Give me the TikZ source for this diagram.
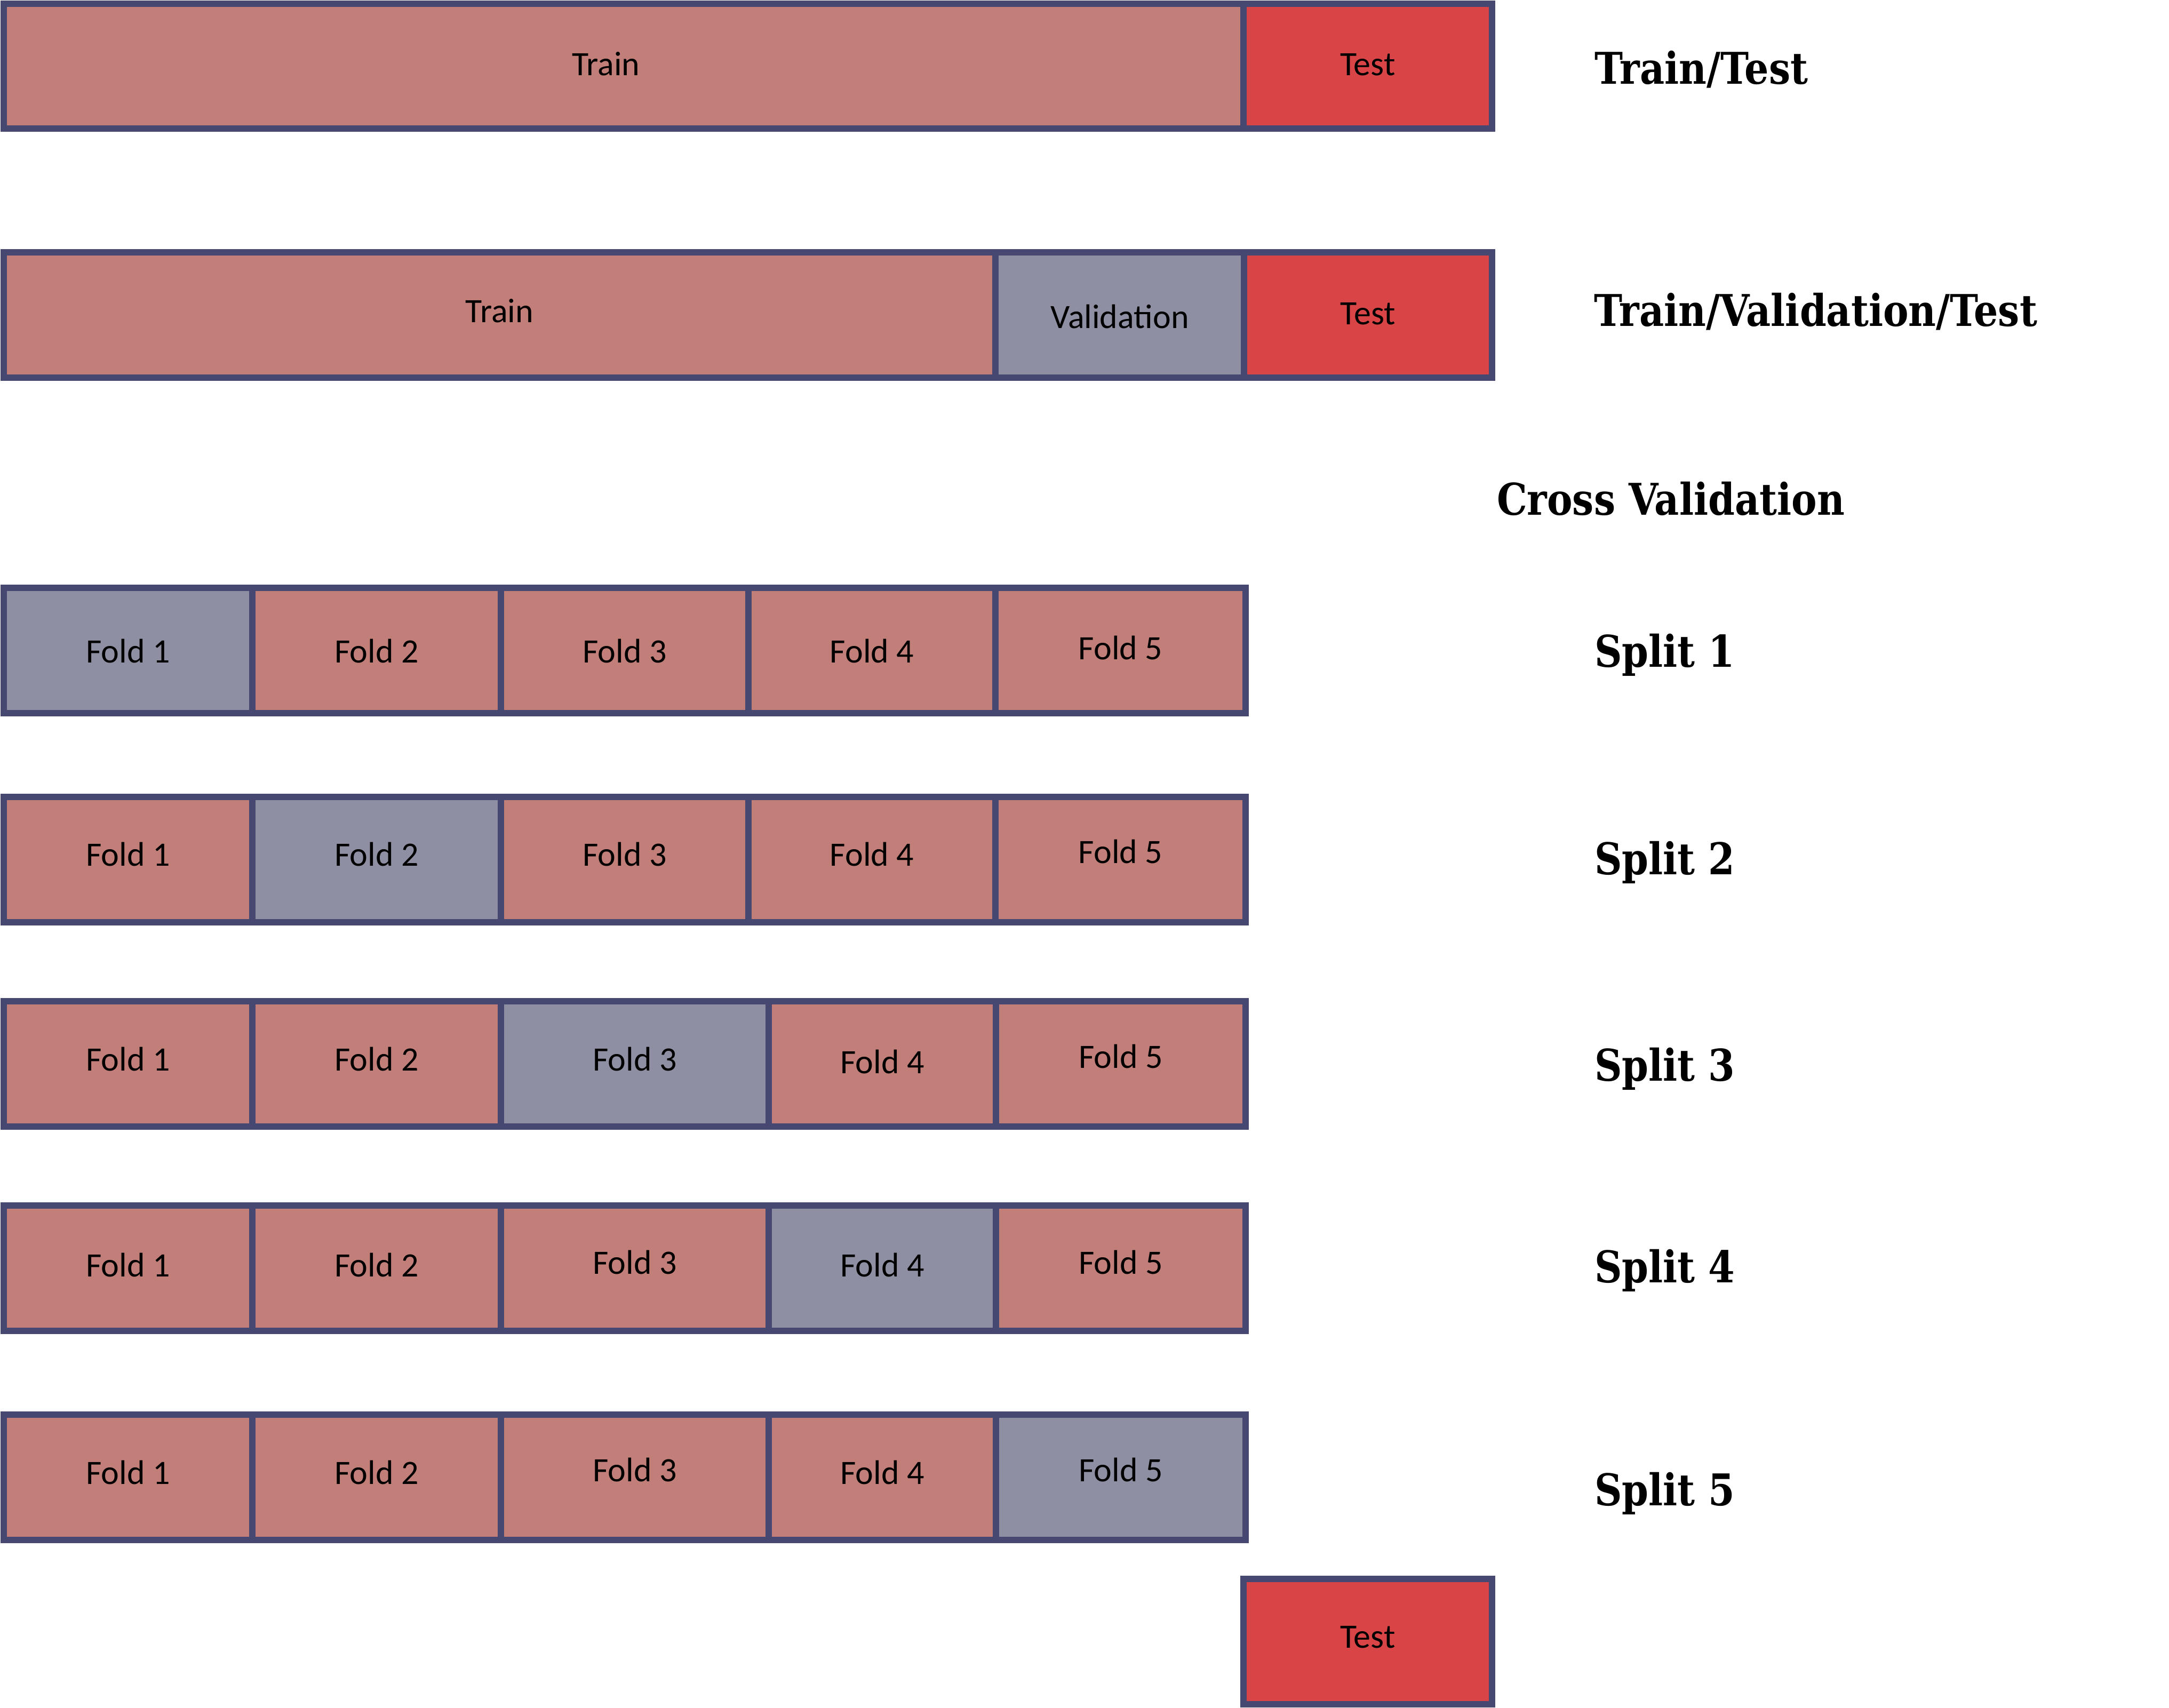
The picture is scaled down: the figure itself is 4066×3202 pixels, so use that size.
\documentclass[tikz,border=0pt]{standalone}
\usepackage{fontspec}
\setmainfont{Carlito}
\newfontfamily\headfont[FakeStretch=0.87]{DejaVu Serif}
\definecolor{trainc}{HTML}{C27E79}
\definecolor{valc}{HTML}{8F8FA3}
\definecolor{testc}{HTML}{D94446}
\definecolor{edgec}{HTML}{464872}

% one coloured cell of a split bar, with its label set on a baseline
% [#1] extra label options, #2 name, #3 x left, #4 x right, #5 y top, #6 y bottom,
% #7 fill, #8 text, #9 baseline shift
\newcommand\cellbox[9][]{%
  \draw[cellline, fill=#7] (#3,#5) rectangle (#4,#6);
  \node[celltext, #1] (#2) at ({(#3+#4)/2},{(#5+#6)/2+#9}) {#8};
}

\begin{document}
\begin{tikzpicture}[x=0.1pt, y=-0.1pt,
  cellline/.style={draw=edgec, line width=1.2pt},
  celltext/.style={anchor=base, inner sep=0pt, font=\fontsize{6.4}{7}\selectfont},
  heading/.style={anchor=base west, inner sep=0pt, font=\headfont\bfseries\fontsize{8.2}{9}\selectfont}]
\useasboundingbox (0,0) rectangle (4066,3202);

% Train / Test
\cellbox[xshift=-3.3pt]{ttTrain}{7}{2331}{7}{241}{trainc}{Train}{18}
\cellbox{ttTest}{2331}{2797}{7}{241}{testc}{Test}{18}

% Train / Validation / Test
\cellbox{tvtTrain}{7}{1866}{473}{708}{trainc}{Train}{14}
\cellbox{tvtVal}{1866}{2332}{473}{708}{valc}{Validation}{25}
\cellbox{tvtTest}{2332}{2797}{473}{708}{testc}{Test}{18}

% Split 1
\cellbox{sAa}{7}{473}{1102}{1337}{valc}{Fold 1}{23}
\cellbox{sAb}{473}{939}{1102}{1337}{trainc}{Fold 2}{23}
\cellbox{sAc}{939}{1403}{1102}{1337}{trainc}{Fold 3}{23}
\cellbox{sAd}{1403}{1866}{1102}{1337}{trainc}{Fold 4}{23}
\cellbox{sAe}{1866}{2335}{1102}{1337}{trainc}{Fold 5}{17}

% Split 2
\cellbox{sBa}{7}{473}{1494}{1729}{trainc}{Fold 1}{12}
\cellbox{sBb}{473}{939}{1494}{1729}{valc}{Fold 2}{12}
\cellbox{sBc}{939}{1403}{1494}{1729}{trainc}{Fold 3}{12}
\cellbox{sBd}{1403}{1866}{1494}{1729}{trainc}{Fold 4}{12}
\cellbox{sBe}{1866}{2335}{1494}{1729}{trainc}{Fold 5}{7}

% Split 3
\cellbox{sCa}{7}{473}{1877}{2112}{trainc}{Fold 1}{13}
\cellbox{sCb}{473}{939}{1877}{2112}{trainc}{Fold 2}{13}
\cellbox{sCc}{939}{1441}{1877}{2112}{valc}{Fold 3}{13}
\cellbox{sCd}{1441}{1867}{1877}{2112}{trainc}{Fold 4}{18}
\cellbox{sCe}{1867}{2335}{1877}{2112}{trainc}{Fold 5}{8}

% Split 4
\cellbox{sDa}{7}{473}{2260}{2495}{trainc}{Fold 1}{16}
\cellbox{sDb}{473}{939}{2260}{2495}{trainc}{Fold 2}{16}
\cellbox{sDc}{939}{1441}{2260}{2495}{trainc}{Fold 3}{11}
\cellbox{sDd}{1441}{1867}{2260}{2495}{valc}{Fold 4}{16}
\cellbox{sDe}{1867}{2335}{2260}{2495}{trainc}{Fold 5}{11}

% Split 5
\cellbox{sEa}{7}{473}{2652}{2887}{trainc}{Fold 1}{13}
\cellbox{sEb}{473}{939}{2652}{2887}{trainc}{Fold 2}{13}
\cellbox{sEc}{939}{1441}{2652}{2887}{trainc}{Fold 3}{8}
\cellbox{sEd}{1441}{1867}{2652}{2887}{trainc}{Fold 4}{13}
\cellbox{sEe}{1867}{2335}{2652}{2887}{valc}{Fold 5}{8}

% held-out test set
\cellbox{cvTest}{2331}{2797}{2960}{3195}{testc}{Test}{12}

% headings
\node[heading] (hTT)  at (2987,158)  {Train/Test};
\node[heading] (hTVT) at (2986,612)  {Train/Validation/Test};
\node[heading] (hCV)  at (2804,966)  {Cross Validation};
\node[heading] (hS1)  at (2987,1251) {Split 1};
\node[heading] (hS2)  at (2987,1640) {Split 2};
\node[heading] (hS3)  at (2987,2027) {Split 3};
\node[heading] (hS4)  at (2987,2405) {Split 4};
\node[heading] (hS5)  at (2987,2823) {Split 5};
\end{tikzpicture}
\end{document}
